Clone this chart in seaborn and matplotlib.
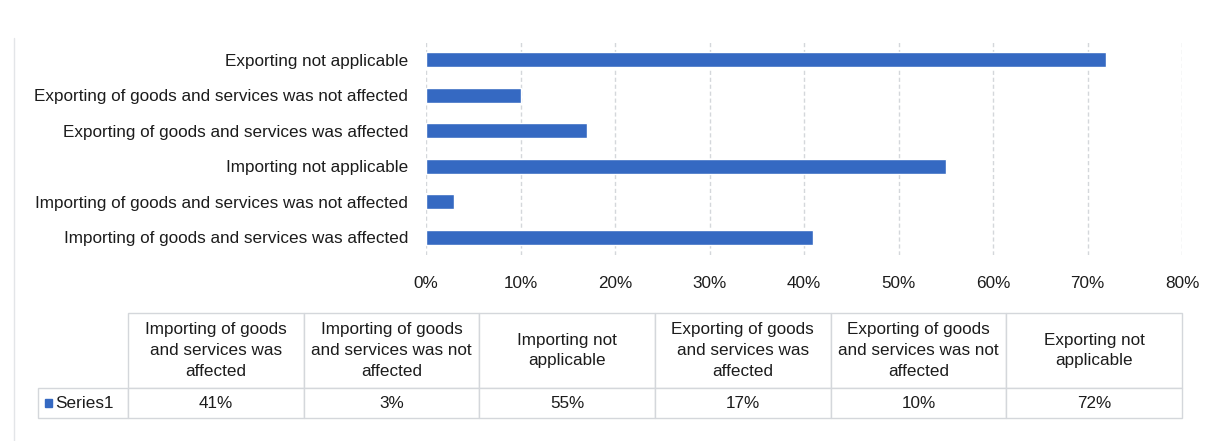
import matplotlib
matplotlib.use("Agg")
import matplotlib.pyplot as plt
import seaborn as sns
import pandas as pd
from matplotlib.patches import Rectangle
from matplotlib.ticker import PercentFormatter

# ---- data (table order, as in source) ----
categories = [
    "Importing of goods and services was affected",
    "Importing of goods and services was not affected",
    "Importing not applicable",
    "Exporting of goods and services was affected",
    "Exporting of goods and services was not affected",
    "Exporting not applicable",
]
header_labels = [
    "Importing of goods\nand services was\naffected",
    "Importing of goods\nand services was not\naffected",
    "Importing not\napplicable",
    "Exporting of goods\nand services was\naffected",
    "Exporting of goods\nand services was not\naffected",
    "Exporting not\napplicable",
]
values = [41, 3, 55, 17, 10, 72]
series_name = "Series1"
x_ticks = [0, 10, 20, 30, 40, 50, 60, 70, 80]

BAR = "#3569C2"
GRID = "#d4d7db"
TXT = "#1c1c1c"
FONT = "Liberation Sans"
FS = 12.3

sns.set_theme(style="white")
plt.rcParams["font.family"] = [FONT, "DejaVu Sans"]

W, H = 1225, 441
fig = plt.figure(figsize=(W / 100, H / 100), dpi=100)
fig.patch.set_facecolor("white")

def box(x0, y0, x1, y1):
    return [x0 / W, 1 - y1 / H, (x1 - x0) / W, (y1 - y0) / H]

ax = fig.add_axes(box(426, 42, 1182, 255))
df = pd.DataFrame({"cat": categories, "val": values})
order = categories[::-1]
sns.barplot(data=df, y="cat", x="val", order=order, color=BAR, width=0.42,
            saturation=1, ax=ax, zorder=3)
ax.set_xlim(x_ticks[0], x_ticks[-1])
ax.set_ylim(len(order) - 0.5, -0.5)
ax.set_xticks(x_ticks)
ax.xaxis.set_major_formatter(PercentFormatter(decimals=0))
ax.set_xlabel("")
ax.set_ylabel("")
for s in ax.spines.values():
    s.set_visible(False)
ax.grid(axis="x", color=GRID, linestyle=(0, (3, 2)), linewidth=1, zorder=0)
ax.tick_params(axis="x", length=0, pad=15, labelsize=FS, labelcolor=TXT)
ax.tick_params(axis="y", length=0, pad=13, labelsize=FS, labelcolor=TXT)

# ---- data table (first column holds the series label) ----
TX0, TX1, TY0, TY1 = 38, 1182, 313, 418
tax = fig.add_axes(box(TX0, TY0, TX1, TY1))
tax.axis("off")
tw, th = TX1 - TX0, TY1 - TY0
cell_text = [[series_name] + [f"{v}%" for v in values]]
tbl = tax.table(cellText=cell_text, colLabels=[""] + header_labels,
                cellLoc="center", bbox=[0, 0, 1, 1])
tbl.auto_set_font_size(False)
first_w = 90
col_w = (tw - first_w) / len(values)
for (r, c), cell in tbl.get_celld().items():
    cell.set_edgecolor(GRID)
    cell.set_linewidth(1)
    t = cell.get_text()
    t.set_fontsize(FS)
    t.set_color(TXT)
    t.set_linespacing(1.5)
    cell.set_height(75 if r == 0 else 30)
    if c == 0:
        cell.set_width(first_w)
        if r == 0:
            cell.visible_edges = ""
        else:
            cell.PAD = 17 / first_w
            t.set_ha("left")
            cell._loc = "left"
    else:
        cell.set_width(col_w)
tax.add_patch(Rectangle((7 / tw, 11 / th), 7 / tw, 8 / th,
                        transform=tax.transAxes, color=BAR, clip_on=False))

# faint chart border on the left
fig.add_artist(plt.Line2D([14 / W, 14 / W], [0, 1 - 38 / H], color="#e3e5e8", lw=1))

fig.savefig("out.png", dpi=100, facecolor="white")
